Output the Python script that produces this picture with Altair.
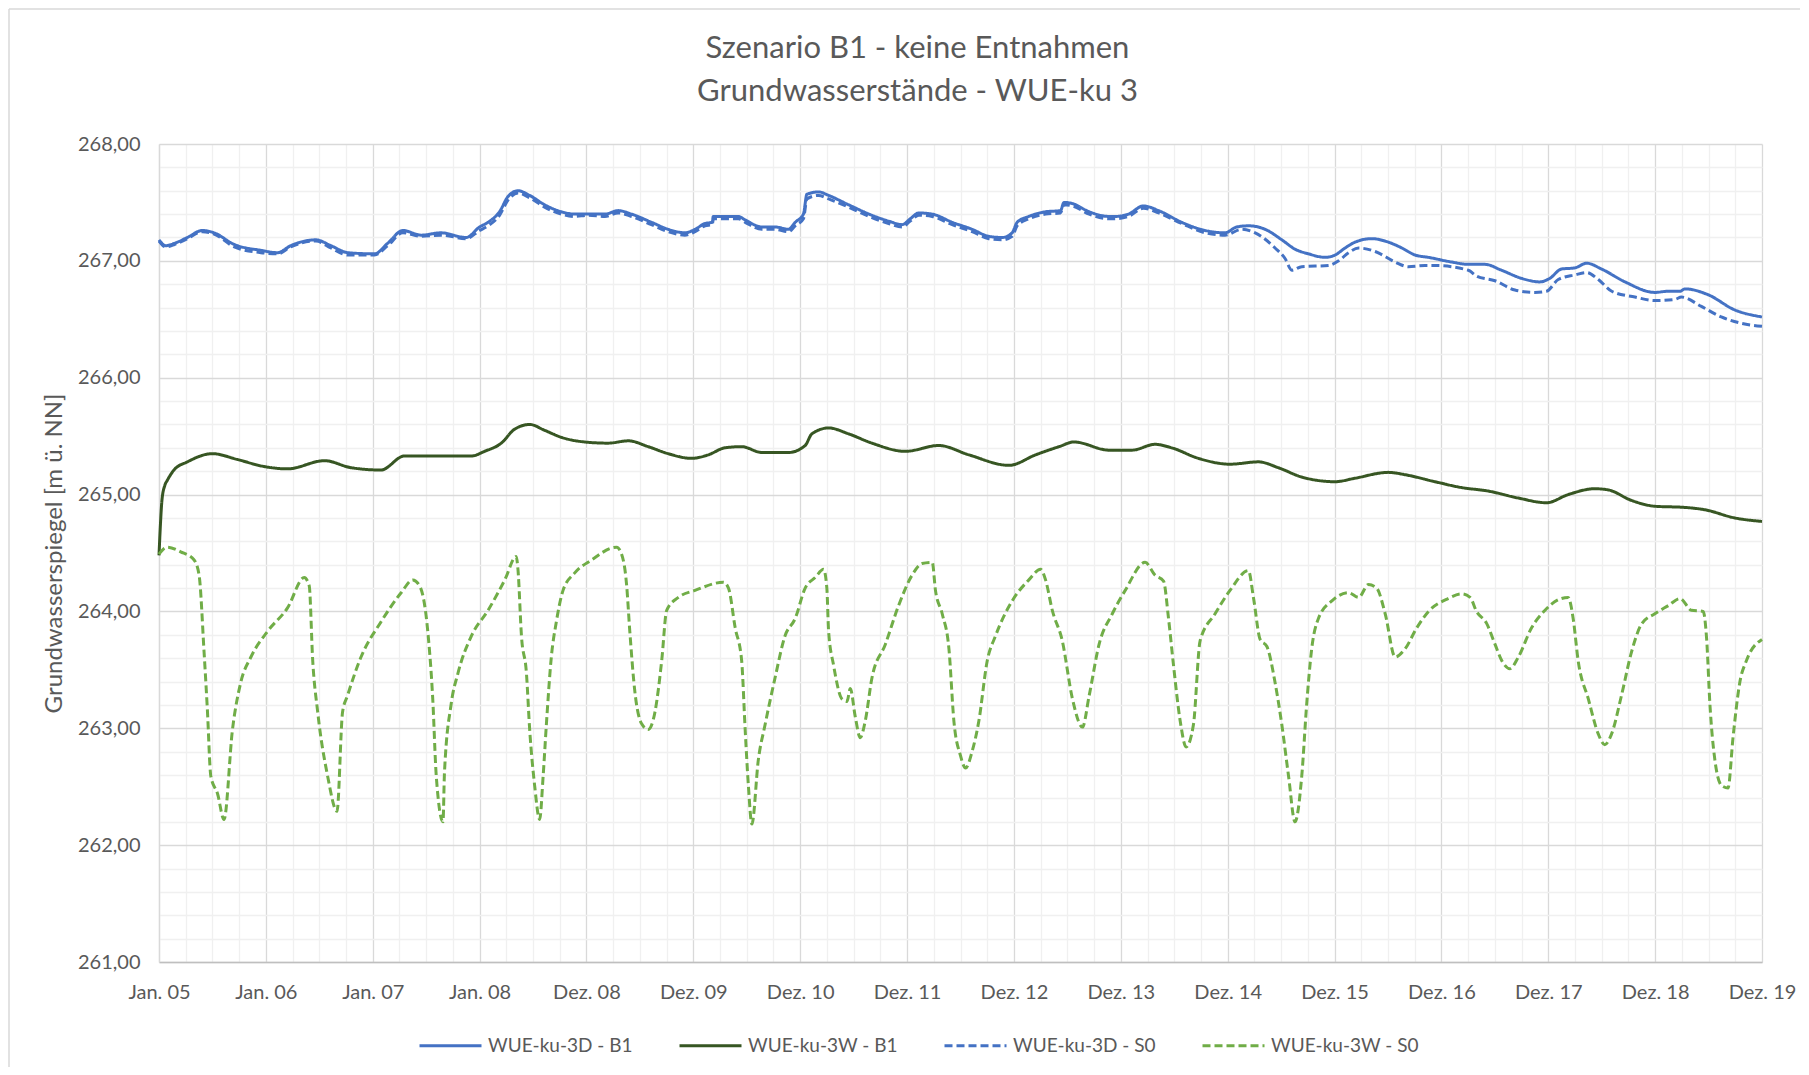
import altair as alt
import pandas as pd

# ---- data (day offset since 1 Jan 2005, groundwater level m ü. NN) ----
SERIES = ["WUE-ku-3D - B1", "WUE-ku-3W - B1", "WUE-ku-3D - S0", "WUE-ku-3W - S0"]
COLORS = ["#4472C4", "#375623", "#4472C4", "#70AD47"]
DASHES = [[1, 0], [1, 0], [8, 4], [8, 4]]

TICK_LABELS = ["Jan. 05", "Jan. 06", "Jan. 07", "Jan. 08", "Dez. 08", "Dez. 09", "Dez. 10",
               "Dez. 11", "Dez. 12", "Dez. 13", "Dez. 14", "Dez. 15", "Dez. 16", "Dez. 17",
               "Dez. 18", "Dez. 19"]

D3_B1 = [(0, 267.18), (23, 267.13), (53, 267.15), (97, 267.20), (148, 267.26), (188, 267.24),
         (257, 267.14), (348, 267.09), (405, 267.07), (450, 267.13), (536, 267.18), (587, 267.13),
         (645, 267.07), (736, 267.06), (781, 267.15), (833, 267.26), (895, 267.22), (963, 267.24),
         (1049, 267.20), (1095, 267.29), (1124, 267.33), (1163, 267.42), (1192, 267.55),
         (1226, 267.60), (1266, 267.56), (1317, 267.48), (1374, 267.42), (1420, 267.40),
         (1466, 267.40), (1523, 267.40), (1568, 267.43), (1614, 267.40), (1682, 267.33),
         (1739, 267.27), (1796, 267.24), (1831, 267.27), (1865, 267.32), (1890, 267.33),
         (1893, 267.38), (1979, 267.38), (2002, 267.35), (2059, 267.29), (2104, 267.29),
         (2150, 267.27), (2173, 267.33), (2201, 267.40), (2213, 267.57), (2253, 267.59),
         (2287, 267.56), (2355, 267.48), (2435, 267.39), (2492, 267.34), (2538, 267.31),
         (2566, 267.36), (2595, 267.41), (2641, 267.40), (2709, 267.33), (2777, 267.27),
         (2834, 267.21), (2880, 267.20), (2914, 267.24), (2931, 267.33), (2971, 267.38),
         (3028, 267.42), (3079, 267.43), (3091, 267.50), (3120, 267.49), (3177, 267.42),
         (3245, 267.38), (3266, 267.38), (3311, 267.40), (3362, 267.47), (3414, 267.43),
         (3493, 267.33), (3573, 267.26), (3641, 267.24), (3681, 267.29), (3721, 267.30),
         (3778, 267.27), (3835, 267.18), (3880, 267.10), (3926, 267.06), (3983, 267.03),
         (4017, 267.05), (4051, 267.11), (4085, 267.16), (4142, 267.19), (4199, 267.16),
         (4245, 267.11), (4290, 267.05), (4336, 267.03), (4415, 266.99), (4472, 266.97),
         (4529, 266.97), (4585, 266.92), (4654, 266.85), (4716, 266.82), (4750, 266.85),
         (4790, 266.93), (4836, 266.94), (4876, 266.98), (4927, 266.93), (5007, 266.82),
         (5109, 266.73), (5155, 266.74), (5195, 266.74), (5212, 266.76), (5291, 266.71),
         (5382, 266.58), (5475, 266.52)]

W3_B1 = [(0, 264.48), (5, 264.75), (10, 264.95), (20, 265.08), (28, 265.12), (51, 265.21),
         (97, 265.28), (182, 265.35), (268, 265.30), (359, 265.24), (439, 265.22), (565, 265.29),
         (656, 265.23), (758, 265.21), (838, 265.33), (918, 265.33), (1067, 265.33),
         (1112, 265.37), (1169, 265.44), (1215, 265.56), (1266, 265.60), (1317, 265.55),
         (1374, 265.49), (1454, 265.45), (1534, 265.44), (1603, 265.46), (1671, 265.41),
         (1739, 265.35), (1819, 265.31), (1876, 265.34), (1933, 265.40), (1990, 265.41),
         (2059, 265.36), (2150, 265.36), (2207, 265.42), (2230, 265.52), (2287, 265.57),
         (2355, 265.52), (2435, 265.44), (2549, 265.37), (2663, 265.42), (2766, 265.34),
         (2903, 265.25), (2994, 265.34), (3074, 265.41), (3125, 265.45), (3245, 265.38),
         (3323, 265.38), (3402, 265.43), (3459, 265.40), (3550, 265.31), (3658, 265.26),
         (3755, 265.28), (3823, 265.23), (3903, 265.15), (4017, 265.11), (4085, 265.14),
         (4199, 265.19), (4256, 265.17), (4358, 265.11), (4449, 265.06), (4540, 265.03),
         (4643, 264.97), (4739, 264.93), (4813, 265.00), (4904, 265.05), (4950, 265.04),
         (5029, 264.95), (5109, 264.90), (5212, 264.89), (5280, 264.87), (5382, 264.80),
         (5475, 264.77)]

D3_S0 = [(0, 267.17), (23, 267.12), (53, 267.14), (97, 267.19), (148, 267.25), (188, 267.23),
         (257, 267.12), (348, 267.07), (405, 267.06), (450, 267.12), (536, 267.17), (587, 267.11),
         (645, 267.05), (736, 267.05), (781, 267.13), (833, 267.24), (895, 267.21), (963, 267.22),
         (1049, 267.19), (1095, 267.26), (1124, 267.30), (1163, 267.39), (1192, 267.52),
         (1226, 267.58), (1266, 267.54), (1317, 267.46), (1374, 267.40), (1420, 267.38),
         (1466, 267.39), (1523, 267.38), (1568, 267.41), (1614, 267.38), (1682, 267.31),
         (1739, 267.25), (1796, 267.22), (1831, 267.25), (1865, 267.30), (1890, 267.31),
         (1893, 267.36), (1979, 267.36), (2002, 267.33), (2059, 267.27), (2104, 267.27),
         (2150, 267.25), (2173, 267.30), (2201, 267.36), (2213, 267.53), (2253, 267.56),
         (2287, 267.53), (2355, 267.46), (2435, 267.37), (2492, 267.32), (2538, 267.29),
         (2566, 267.34), (2595, 267.39), (2641, 267.38), (2709, 267.31), (2777, 267.25),
         (2834, 267.19), (2880, 267.18), (2914, 267.21), (2931, 267.30), (2971, 267.36),
         (3028, 267.40), (3079, 267.41), (3091, 267.48), (3120, 267.47), (3177, 267.40),
         (3245, 267.36), (3266, 267.36), (3311, 267.38), (3362, 267.45), (3414, 267.41),
         (3493, 267.32), (3573, 267.24), (3641, 267.22), (3698, 267.27), (3744, 267.24),
         (3812, 267.11), (3846, 267.02), (3869, 266.92), (3903, 266.95), (3994, 266.96),
         (4029, 267.00), (4063, 267.07), (4097, 267.11), (4154, 267.08), (4222, 266.99),
         (4267, 266.95), (4324, 266.96), (4358, 266.96), (4472, 266.92), (4500, 266.87),
         (4563, 266.83), (4631, 266.75), (4699, 266.73), (4739, 266.74), (4779, 266.84),
         (4836, 266.88), (4876, 266.90), (4916, 266.84), (4962, 266.74), (5041, 266.69),
         (5109, 266.66), (5177, 266.67), (5200, 266.69), (5268, 266.61), (5336, 266.52),
         (5416, 266.46), (5475, 266.44)]

W3_S0 = [(0, 264.49), (28, 264.55), (74, 264.51), (120, 264.44), (137, 264.31), (154, 263.65),
         (165, 263.17), (177, 262.59), (200, 262.44), (222, 262.22), (251, 262.99), (279, 263.39),
         (314, 263.61), (371, 263.83), (439, 264.03), (496, 264.29), (513, 264.22), (525, 263.58),
         (542, 263.14), (576, 262.59), (608, 262.29), (627, 263.14), (644, 263.28), (690, 263.61),
         (758, 263.91), (827, 264.16), (867, 264.27), (890, 264.22), (918, 263.83), (935, 263.25),
         (947, 262.59), (970, 262.20), (975, 262.62), (998, 263.21), (1021, 263.47),
         (1067, 263.79), (1124, 264.01), (1181, 264.27), (1220, 264.47), (1226, 264.36),
         (1238, 263.79), (1255, 263.47), (1266, 262.99), (1283, 262.51), (1300, 262.22),
         (1312, 262.59), (1323, 263.03), (1340, 263.61), (1357, 263.91), (1380, 264.18),
         (1420, 264.33), (1477, 264.44), (1563, 264.55), (1580, 264.49), (1597, 264.23),
         (1608, 263.83), (1625, 263.32), (1648, 263.04), (1671, 262.99), (1694, 263.14),
         (1717, 263.58), (1734, 264.01), (1774, 264.12), (1831, 264.18), (1928, 264.25),
         (1945, 264.20), (1968, 263.86), (1990, 263.58), (2002, 262.99), (2013, 262.51),
         (2025, 262.18), (2047, 262.73), (2070, 263.03), (2104, 263.43), (2138, 263.79),
         (2173, 263.94), (2207, 264.20), (2241, 264.29), (2270, 264.36), (2281, 264.20),
         (2287, 263.83), (2304, 263.54), (2333, 263.25), (2350, 263.23), (2361, 263.34),
         (2378, 263.10), (2395, 262.92), (2412, 263.06), (2435, 263.43), (2481, 263.72),
         (2526, 264.05), (2572, 264.31), (2606, 264.41), (2641, 264.42), (2652, 264.18),
         (2675, 263.98), (2698, 263.68), (2715, 263.06), (2737, 262.77), (2755, 262.66),
         (2777, 262.80), (2800, 263.06), (2829, 263.58), (2857, 263.79), (2914, 264.09),
         (2971, 264.27), (3011, 264.36), (3028, 264.27), (3051, 264.01), (3085, 263.75),
         (3120, 263.25), (3154, 263.01), (3177, 263.28), (3211, 263.72), (3256, 263.98),
         (3300, 264.18), (3368, 264.42), (3402, 264.31), (3431, 264.26), (3448, 263.94),
         (3465, 263.54), (3488, 263.06), (3508, 262.84), (3533, 263.03), (3556, 263.75),
         (3607, 263.98), (3658, 264.18), (3721, 264.35), (3738, 264.12), (3761, 263.76),
         (3784, 263.70), (3812, 263.39), (3835, 263.03), (3858, 262.59), (3880, 262.20),
         (3903, 262.59), (3920, 263.21), (3937, 263.68), (3960, 263.94), (4006, 264.09),
         (4063, 264.16), (4097, 264.12), (4131, 264.23), (4159, 264.20), (4188, 263.98),
         (4222, 263.61), (4256, 263.68), (4296, 263.86), (4336, 264.00), (4403, 264.11),
         (4449, 264.15), (4478, 264.12), (4500, 264.00), (4534, 263.90), (4563, 263.72),
         (4586, 263.58), (4614, 263.51), (4643, 263.61), (4688, 263.86), (4734, 264.01),
         (4779, 264.10), (4813, 264.12), (4830, 263.94), (4847, 263.58), (4882, 263.25),
         (4916, 262.95), (4938, 262.86), (4961, 262.95), (4995, 263.28), (5029, 263.65),
         (5063, 263.89), (5109, 263.98), (5155, 264.05), (5195, 264.11), (5234, 264.01),
         (5274, 264.00), (5286, 263.76), (5297, 263.21), (5314, 262.73), (5337, 262.51),
         (5359, 262.49), (5376, 262.92), (5399, 263.39), (5422, 263.58), (5475, 263.76)]

rows = []
for name, pts in zip(SERIES, [D3_B1, W3_B1, D3_S0, W3_S0]):
    for d, v in pts:
        rows.append({"Tag": d, "Wert": v, "Reihe": name})
df = pd.DataFrame(rows)

W, H = 1603, 818
TEXT = "#595959"
FONT = "Lato"

x_vals = [i * 365 / 4 for i in range(61)]
y_vals = [261 + 0.2 * i for i in range(36)]
lab_arr = "[" + ",".join("'%s'" % s for s in TICK_LABELS) + "]"

x_axis = alt.Axis(
    values=x_vals, title=None, ticks=False, domain=True, domainColor="#bfbfbf", domainWidth=1.3,
    labelExpr="abs(datum.value/365 - round(datum.value/365)) < 0.001 ? %s[round(datum.value/365)] : ''" % lab_arr,
    labelOverlap=False, labelFlush=False, labelFont=FONT, labelFontSize=20, labelColor=TEXT,
    labelPadding=20,
    gridColor={"condition": {"test": "abs(datum.value/365 - round(datum.value/365)) < 0.001", "value": "#d9d9d9"}, "value": "#f0f0f0"},
    gridWidth=1.3,
)
y_axis = alt.Axis(
    values=y_vals, ticks=False, domain=True, domainColor="#d9d9d9", domainWidth=1.3,
    labelExpr="abs(datum.value - round(datum.value)) < 0.01 ? replace(format(datum.value, '.2f'), '.', ',') : ''",
    labelOverlap=False, labelFont=FONT, labelFontSize=20, labelColor=TEXT, labelPadding=19,
    gridColor={"condition": {"test": "abs(datum.value - round(datum.value)) < 0.01", "value": "#d9d9d9"}, "value": "#f0f0f0"},
    gridWidth=1.3,
    title="Grundwasserspiegel [m ü. NN]", titleFont=FONT, titleFontSize=24, titleFontWeight="normal",
    titleColor=TEXT, titleAngle=270, titleX=-105, titleY=H / 2, titleAlign="center",
    titleBaseline="middle",
)

legend = alt.Legend(
    title=None, orient="none", legendX=259, legendY=869, direction="horizontal", columns=4,
    symbolType="stroke", symbolSize=3844, symbolStrokeWidth=3, labelFont=FONT, labelFontSize=19,
    labelColor=TEXT, labelOffset=5, columnPadding=40, padding=0,
)

lines = alt.Chart(df).mark_line(strokeWidth=3, interpolate="monotone").encode(
    x=alt.X("Tag:Q", scale=alt.Scale(domain=[0, 5475], nice=False, zero=False), axis=x_axis),
    y=alt.Y("Wert:Q", scale=alt.Scale(domain=[261, 268], nice=False, zero=False), axis=y_axis),
    color=alt.Color("Reihe:N", scale=alt.Scale(domain=SERIES, range=COLORS), legend=legend),
    strokeDash=alt.StrokeDash("Reihe:N", scale=alt.Scale(domain=SERIES, range=DASHES), legend=legend),
    detail="Reihe:N",
)

one = pd.DataFrame({"a": [0]})
frame_top = alt.Chart(one).mark_rule(color="#d9d9d9", strokeWidth=1.5).encode(
    x=alt.value(-150), x2=alt.value(W + 60), y=alt.value(-135))
frame_left = alt.Chart(one).mark_rule(color="#d9d9d9", strokeWidth=1.5).encode(
    x=alt.value(-150), y=alt.value(-135), y2=alt.value(H + 120))

chart = alt.layer(frame_top, frame_left, lines).properties(
    width=W, height=H,
    autosize=alt.AutoSizeParams(type="none"),
    padding={"left": 151, "top": 136, "right": 38, "bottom": 105},
    title=alt.TitleParams(
        text=["Szenario B1 - keine Entnahmen", "Grundwasserstände - WUE-ku 3"],
        font=FONT, fontSize=31, fontWeight="normal", color=TEXT, anchor="middle",
        dx=-43, offset=-100, lineHeight=43,
    ),
).configure(font=FONT).configure_view(strokeWidth=0)

chart.save("out.html", embed_options={"renderer": "svg", "actions": False})
